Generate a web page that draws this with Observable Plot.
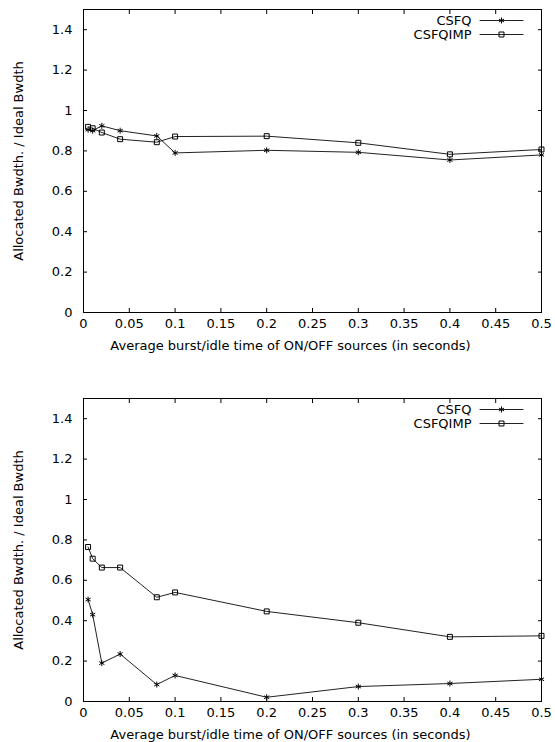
<!DOCTYPE html>
<html><head><meta charset="utf-8">
<script src="https://cdn.jsdelivr.net/npm/d3@7"></script>
<script src="https://cdn.jsdelivr.net/npm/@observablehq/plot@0.6"></script>
<style>
body{margin:0;background:#fff}
svg{display:block}
</style>
</head><body><div id="c"></div>
<script>
const xValues = [0.005, 0.01, 0.02, 0.04, 0.08, 0.1, 0.2, 0.3, 0.4, 0.5];
const topCSFQ = [0.905, 0.9, 0.924, 0.9, 0.874, 0.79, 0.803, 0.793, 0.755, 0.78];
const topCSFQIMP = [0.919, 0.912, 0.891, 0.858, 0.843, 0.871, 0.873, 0.84, 0.783, 0.807];
const botCSFQ = [0.505, 0.43, 0.19, 0.235, 0.084, 0.129, 0.021, 0.074, 0.089, 0.11];
const botCSFQIMP = [0.765, 0.707, 0.663, 0.663, 0.516, 0.54, 0.446, 0.39, 0.32, 0.325];
const xTicks = [0, 0.05, 0.1, 0.15, 0.2, 0.25, 0.3, 0.35, 0.4, 0.45, 0.5];
const yTicks = [0, 0.2, 0.4, 0.6, 0.8, 1, 1.2, 1.4];
const seriesNames = ["CSFQ", "CSFQIMP"];
const seriesSymbols = ["asterisk", "square"];
const xLabel = "Average burst/idle time of ON/OFF sources (in seconds)";
const yLabel = "Allocated Bwdth. / Ideal Bwdth";

const FONT = "DejaVu Sans, Liberation Sans, Arial, sans-serif";
const FS = 13;
const vline = {draw(ctx, l) { ctx.moveTo(0, 0); ctx.lineTo(0, -l); }};

function panel(seriesA, seriesB, height, marginBottom) {
  const rows = [];
  [seriesA, seriesB].forEach((vals, s) => {
    vals.forEach((v, i) => rows.push({x: xValues[i], y: v, series: seriesNames[s]}));
  });
  const legendMarks = seriesNames.flatMap((name, s) => [
    Plot.text([name], {text: d => d, frameAnchor: "top-right", dx: -70, dy: 11 + s * 14, textAnchor: "end", lineAnchor: "middle", fontSize: FS, fill: "black"}),
    Plot.vector([name], {frameAnchor: "top-right", dx: -40, dy: 11 + s * 14, length: 43, rotate: 90, anchor: "middle", shape: vline, stroke: "#222", strokeWidth: 1}),
    Plot.dot([name], {frameAnchor: "top-right", dx: -40, dy: 11 + s * 14, symbol: () => seriesSymbols[s], r: 2.8, stroke: "black", fill: "none", strokeWidth: 1})
  ]);
  return Plot.plot({
    width: 555,
    height,
    marginLeft: 83,
    marginRight: 14,
    marginTop: 9,
    marginBottom,
    style: {fontFamily: FONT, fontSize: FS + "px", color: "black", background: "white", overflow: "visible"},
    x: {domain: [0, 0.5]},
    y: {domain: [0, 1.5]},
    symbol: {domain: seriesNames, range: seriesSymbols},
    marks: [
      Plot.axisX(xTicks, {anchor: "bottom", tickSize: 0, tickPadding: 6, tickFormat: d => String(d), label: null, fontSize: FS}),
      Plot.axisY(yTicks, {anchor: "left", tickSize: 0, tickPadding: 11, tickFormat: d => String(d), label: null, fontSize: FS}),
      Plot.axisX(xTicks, {anchor: "bottom", tickSize: -4, tickFormat: () => "", label: null}),
      Plot.axisX(xTicks, {anchor: "top", tickSize: -4, tickFormat: () => "", label: null}),
      Plot.axisY(yTicks, {anchor: "left", tickSize: -4, tickFormat: () => "", label: null}),
      Plot.axisY(yTicks, {anchor: "right", tickSize: -4, tickFormat: () => "", label: null}),
      Plot.frame({stroke: "black", strokeWidth: 1}),
      Plot.line(rows, {x: "x", y: "y", z: "series", stroke: "#222", strokeWidth: 1}),
      Plot.dot(rows, {x: "x", y: "y", symbol: "series", r: 2.8, stroke: "black", fill: "none", strokeWidth: 1}),
      ...legendMarks,
      Plot.text([xLabel], {text: d => d, frameAnchor: "bottom", dx: -22, dy: 33, textAnchor: "middle", lineAnchor: "middle", fontSize: FS, fill: "black"}),
      Plot.text([yLabel], {text: d => d, frameAnchor: "left", dx: -65, rotate: -90, textAnchor: "middle", lineAnchor: "middle", fontSize: FS, fill: "black"})
    ]
  });
}

const c = document.getElementById("c");
c.appendChild(panel(topCSFQ, topCSFQIMP, 389, 77));
c.appendChild(panel(botCSFQ, botCSFQIMP, 353, 41));
</script>
</body></html>
